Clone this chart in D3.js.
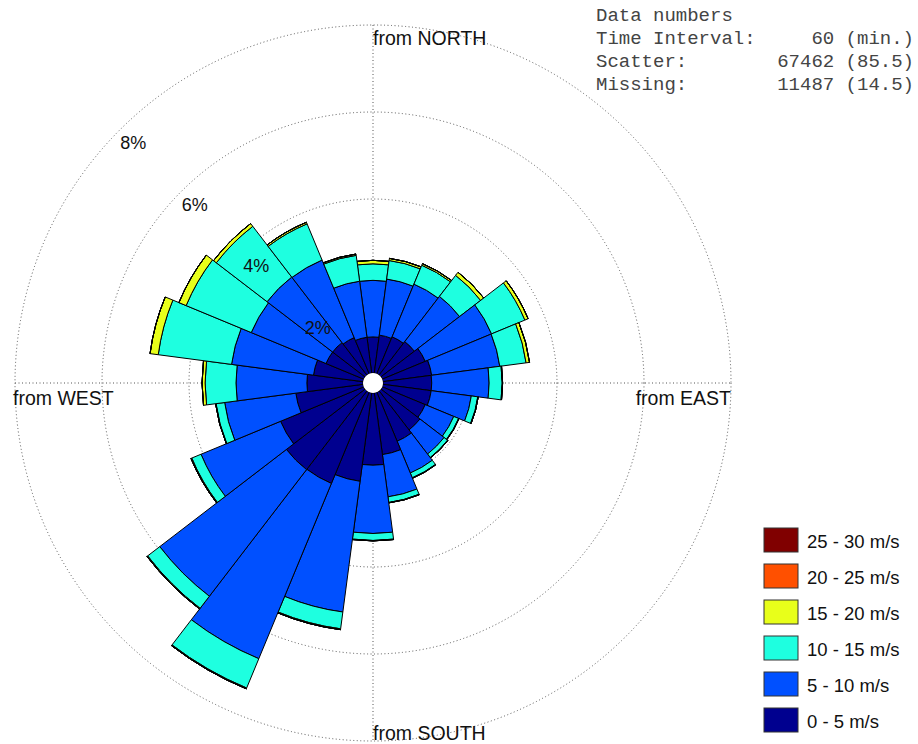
<!DOCTYPE html>
<html>
<head>
<meta charset="utf-8">
<script src="https://cdn.jsdelivr.net/npm/d3@7"></script>
<style>
  body { margin: 0; background: #fff; }
  svg { display: block; }
</style>
</head>
<body>
<div id="chart"></div>
<script>
// wind directions (deg, "from"), 15 deg sectors
var directions = [0, 15, 30, 45, 60, 75, 90, 105, 120, 135, 150, 165,
                  180, 195, 210, 225, 240, 255, 270, 285, 300, 315, 330, 345];

// frequency (%) per speed class, same order as directions
var pct0to5   = [0.83, 0.88, 0.92, 0.97, 1.07, 1.13, 1.12, 1.12, 1.07, 1.13, 1.22, 1.43,
                 1.66, 2.05, 2.27, 2.28, 2.07, 1.56, 1.29, 1.15, 0.94, 0.94, 0.90, 0.83];
var pct5to10  = [1.30, 1.30, 1.31, 1.31, 1.65, 1.58, 1.32, 0.93, 0.71, 0.70, 0.79, 0.98,
                 1.57, 3.03, 4.36, 3.67, 1.98, 1.65, 1.63, 1.90, 1.86, 1.90, 1.93, 1.30];
var pct10to15 = [0.38, 0.43, 0.47, 0.61, 0.83, 0.61, 0.30, 0.15, 0.12, 0.10, 0.12, 0.13,
                 0.16, 0.39, 0.73, 0.35, 0.23, 0.20, 0.71, 1.70, 1.62, 1.47, 0.90, 0.60];
var pct15to20 = [0.08, 0.05, 0.04, 0.09, 0.08, 0.08, 0.01, 0.01, 0.01, 0.01, 0.01, 0.01,
                 0.01, 0.02, 0.02, 0.02, 0.02, 0.01, 0.07, 0.19, 0.18, 0.08, 0.04, 0.03];
var pct20to25 = [0, 0, 0, 0, 0, 0, 0, 0, 0, 0, 0, 0, 0, 0, 0, 0, 0, 0, 0, 0, 0, 0, 0, 0];
var pct25to30 = [0, 0, 0, 0, 0, 0, 0, 0, 0, 0, 0, 0, 0, 0, 0, 0, 0, 0, 0, 0, 0, 0, 0, 0];

var speedLabels = ["0 - 5 m/s", "5 - 10 m/s", "10 - 15 m/s", "15 - 20 m/s", "20 - 25 m/s", "25 - 30 m/s"];
var speedColors = ["#00008f", "#0050ff", "#1effe0", "#e8ff1a", "#ff5000", "#800000"];

var ringTicks = [2, 4, 6, 8];
var compassLabels = ["from NORTH", "from EAST", "from SOUTH", "from WEST"];

var infoLabels = ["Time Interval:", "Scatter:", "Missing:"];
var infoValues = ["60 (min.)", "67462 (85.5)", "11487 (14.5)"];

var width = 918, height = 744;
var cx = 373, cy = 383;
var font = "Liberation Sans, Arial, sans-serif";
var mono = "Liberation Mono, Courier New, monospace";

var svg = d3.select("#chart").append("svg")
  .attr("width", width)
  .attr("height", height);

svg.append("rect").attr("width", width).attr("height", height).attr("fill", "#fff");

var r = d3.scaleLinear().domain([0, 8]).range([10, 358]);
var rMax = r(8);

var g = svg.append("g").attr("transform", "translate(" + cx + "," + cy + ")");

// dotted grid circles
g.selectAll(".ring")
  .data(ringTicks)
  .enter()
  .append("circle")
  .attr("r", function(d) { return r(d); })
  .attr("fill", "none")
  .attr("stroke", "#555")
  .attr("stroke-width", 1)
  .attr("stroke-dasharray", "1,2.5");

// dotted N-S / E-W axes
g.append("line").attr("x1", 0).attr("y1", -rMax).attr("x2", 0).attr("y2", rMax)
  .attr("stroke", "#555").attr("stroke-dasharray", "1,2.5");
g.append("line").attr("x1", -rMax).attr("y1", 0).attr("x2", rMax).attr("y2", 0)
  .attr("stroke", "#555").attr("stroke-dasharray", "1,2.5");

// stack the speed classes per direction
var series = [pct0to5, pct5to10, pct10to15, pct15to20, pct20to25, pct25to30];
var segments = [];
directions.forEach(function(dir, i) {
  var lo = 0;
  series.forEach(function(s, k) {
    var hi = lo + s[i];
    segments.push({ dir: dir, lo: lo, hi: hi, k: k });
    lo = hi;
  });
});

var half = 7.5 * Math.PI / 180;
var arc = d3.arc()
  .innerRadius(function(d) { return r(d.lo); })
  .outerRadius(function(d) { return r(d.hi); })
  .startAngle(function(d) { return d.dir * Math.PI / 180 - half; })
  .endAngle(function(d) { return d.dir * Math.PI / 180 + half; });

g.selectAll(".seg")
  .data(segments)
  .enter()
  .append("path")
  .attr("d", arc)
  .attr("fill", function(d) { return speedColors[d.k]; })
  .attr("stroke", "#000")
  .attr("stroke-width", 1)
  .attr("stroke-linejoin", "round");

// white hole in the middle
g.append("circle").attr("r", r(0)).attr("fill", "#fff");

// ring labels along the NW diagonal, a bit inside each ring
var c45 = Math.SQRT1_2;
g.selectAll(".rlab")
  .data(ringTicks)
  .enter()
  .append("text")
  .attr("x", function(d) { return -(r(d) - 19) * c45; })
  .attr("y", function(d) { return -(r(d) - 19) * c45; })
  .attr("text-anchor", "middle")
  .attr("dominant-baseline", "central")
  .attr("font-family", font)
  .attr("font-size", 18)
  .attr("fill", "#111")
  .text(function(d) { return d + "%"; });

// compass labels
var compassPos = [
  { x: 0, y: -rMax + 20, anchor: "start" },
  { x: rMax, y: 22, anchor: "end" },
  { x: 0, y: rMax - 1, anchor: "start" },
  { x: -rMax - 2, y: 22, anchor: "start" }
];
g.selectAll(".clab")
  .data(compassLabels)
  .enter()
  .append("text")
  .attr("x", function(d, i) { return compassPos[i].x; })
  .attr("y", function(d, i) { return compassPos[i].y; })
  .attr("text-anchor", function(d, i) { return compassPos[i].anchor; })
  .attr("font-family", font)
  .attr("font-size", 19.5)
  .attr("fill", "#111")
  .text(function(d) { return d; });

// info block (top right)
svg.append("text").attr("x", 596).attr("y", 21)
  .attr("font-family", mono).attr("font-size", 19).attr("fill", "#444")
  .text("Data numbers");
infoLabels.forEach(function(t, i) {
  svg.append("text").attr("x", 596).attr("y", 44 + i * 23)
    .attr("font-family", mono).attr("font-size", 19).attr("fill", "#444")
    .text(t);
  svg.append("text").attr("x", 914).attr("y", 44 + i * 23)
    .attr("text-anchor", "end")
    .attr("font-family", mono).attr("font-size", 19).attr("fill", "#444")
    .text(infoValues[i]);
});

// legend, fastest class on top
var legend = svg.append("g").attr("transform", "translate(764,528)");
var order = d3.range(speedLabels.length).reverse();
order.forEach(function(k, j) {
  legend.append("rect")
    .attr("x", 0).attr("y", j * 36)
    .attr("width", 34).attr("height", 24)
    .attr("fill", speedColors[k])
    .attr("stroke", "#333").attr("stroke-width", 1);
  legend.append("text")
    .attr("x", 43).attr("y", j * 36 + 20)
    .attr("font-family", font).attr("font-size", 18.5).attr("fill", "#111")
    .text(speedLabels[k]);
});
</script>
</body>
</html>
